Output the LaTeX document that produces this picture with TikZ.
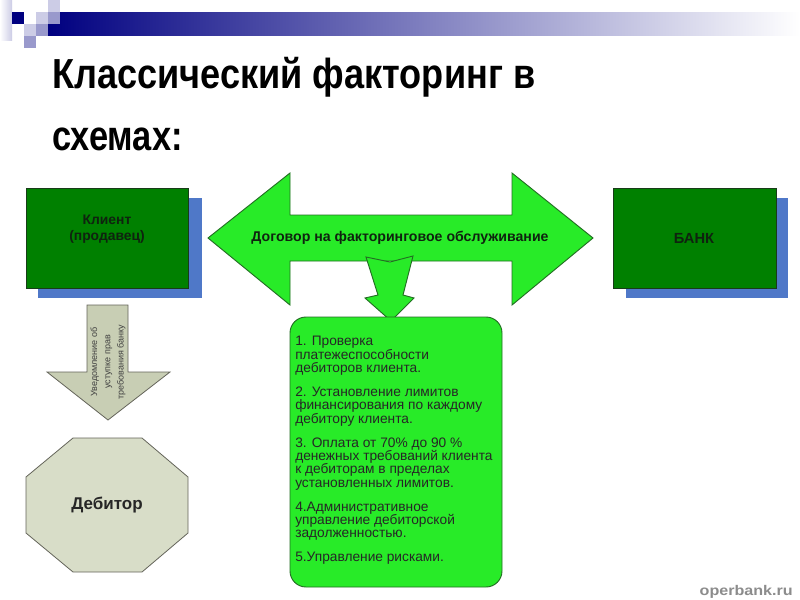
\documentclass[tikz,border=0pt]{standalone}
\usepackage{fontspec}
\usepackage{graphicx}
\setmainfont{Liberation Sans}
\definecolor{navy}{RGB}{0,0,128}
\definecolor{lavlight}{RGB}{204,204,230}
\definecolor{lavmid}{RGB}{153,153,204}
\definecolor{darkgreen}{RGB}{0,128,0}
\definecolor{boxborder}{RGB}{25,60,25}
\definecolor{shadowblue}{RGB}{79,120,200}
\definecolor{brightgreen}{RGB}{40,235,40}
\definecolor{arrowborder}{RGB}{35,110,35}
\definecolor{olivefill}{RGB}{200,206,180}
\definecolor{octfill}{RGB}{216,221,200}
\definecolor{grayborder}{RGB}{100,100,90}
\definecolor{darktext}{RGB}{15,35,15}
\begin{document}
\begin{tikzpicture}[x=0.75pt,y=-0.75pt,
  greenbox/.style={draw=boxborder,fill=darkgreen,line width=0.6pt},
  shadowbox/.style={fill=shadowblue,draw=none},
  blockarrow/.style={draw=arrowborder,fill=brightgreen,line width=0.7pt,line join=miter},
  olivearrow/.style={draw=grayborder,fill=olivefill,line width=0.6pt},
  boxlabel/.style={font=\fontsize{10.4pt}{12pt}\selectfont\bfseries,text=darktext,align=center}
]
\useasboundingbox (0,0) rectangle (800,600);
\fill[white] (0,0) rectangle (800,600);
% top decoration
\shade[left color=lavlight,right color=white,shading angle=270] (0,0) rectangle (12,40);
\shade[left color=navy,right color=white] (48,12) rectangle (800,35);
\fill[navy] (12,12) rectangle (24,24);
\fill[lavlight] (36,12) rectangle (48,24);
\fill[lavlight] (48,0) rectangle (60,12);
\fill[lavmid] (48,12) rectangle (60,24);
\fill[lavlight] (24,24) rectangle (36,36);
\fill[lavmid] (36,24) rectangle (48,36);
\fill[lavmid] (24,36) rectangle (36,48);
% title
\node[anchor=base west,inner sep=0] (title1) at (52,88) {\scalebox{0.86}[1]{\fontsize{31.5pt}{36pt}\selectfont\bfseries Классический факторинг в}};
\node[anchor=base west,inner sep=0] (title2) at (52,150) {\scalebox{0.82}[1]{\fontsize{31.5pt}{36pt}\selectfont\bfseries схемах:}};
% client box
\fill[shadowbox] (38,198) rectangle (202,298);
\node[greenbox,minimum width=162*0.75pt,minimum height=100*0.75pt,anchor=north west,inner sep=0] (client) at (26,188) {};
\node[boxlabel] (clientlabel) at (107,229) {Клиент\\(продавец)};
% bank box
\fill[shadowbox] (626,198) rectangle (788,298);
\node[greenbox,minimum width=163*0.75pt,minimum height=100*0.75pt,anchor=north west,inner sep=0] (bank) at (613,188) {};
\node[boxlabel,font=\fontsize{11pt}{13pt}\selectfont\bfseries] (banklabel) at (694,238) {БАНК};
% double arrow
\draw[blockarrow] (208,238) -- (290,173) -- (290,215) -- (512,215) -- (512,173) -- (593,238) -- (512,305) -- (512,261) -- (290,261) -- (290,305) -- cycle;
\node[boxlabel,font=\fontsize{10.6pt}{12pt}\selectfont\bfseries] (contract) at (400,238) {Договор на факторинговое обслуживание};
% down arrow
\draw[blockarrow] (366,257) -- (390,262) -- (413,256) -- (403,295) -- (414,298) -- (391,321) -- (365,298) -- (378,295) -- cycle;
% list box
\draw[blockarrow,rounded corners=12pt] (290,317) rectangle (502,587);
\node[anchor=north west,inner sep=0,align=left,text=black!85,font=\fontsize{10.3pt}{10pt}\selectfont] (list) at (295,336) {%
1. Проверка\\платежеспособности\\дебиторов клиента.\\[8pt]%
2. Установление лимитов\\финансирования по каждому\\дебитору клиента.\\[8pt]%
3. Оплата от 70\% до 90 \%\\денежных требований клиента\\к дебиторам в пределах\\установленных лимитов.\\[8pt]%
4.Административное\\управление дебиторской\\задолженностью.\\[8pt]%
5.Управление рисками.};
% left olive arrow
\draw[olivearrow] (87,305) -- (128,305) -- (128,372) -- (170,372) -- (108,420) -- (47,372) -- (87,372) -- cycle;
\node[rotate=90,align=center,text=black!75,font=\fontsize{6.75pt}{10pt}\selectfont] (notice) at (108,362) {Уведомление об\\уступке прав\\требования банку};
% debtor octagon
\draw[olivearrow,fill=octfill] (73,438) -- (142,438) -- (188,477) -- (188,533) -- (142,572) -- (73,572) -- (26,533) -- (26,477) -- cycle;
\node[boxlabel,text=black!85,font=\fontsize{12.75pt}{15pt}\selectfont\bfseries] (debtor) at (107,505) {Дебитор};
% watermark
\node[anchor=east,inner sep=0,text=black!45,font=\fontsize{10.5pt}{12pt}\selectfont\bfseries] (wm) at (793,592) {\scalebox{1.15}[1]{operbank.ru}};
\end{tikzpicture}
\end{document}
